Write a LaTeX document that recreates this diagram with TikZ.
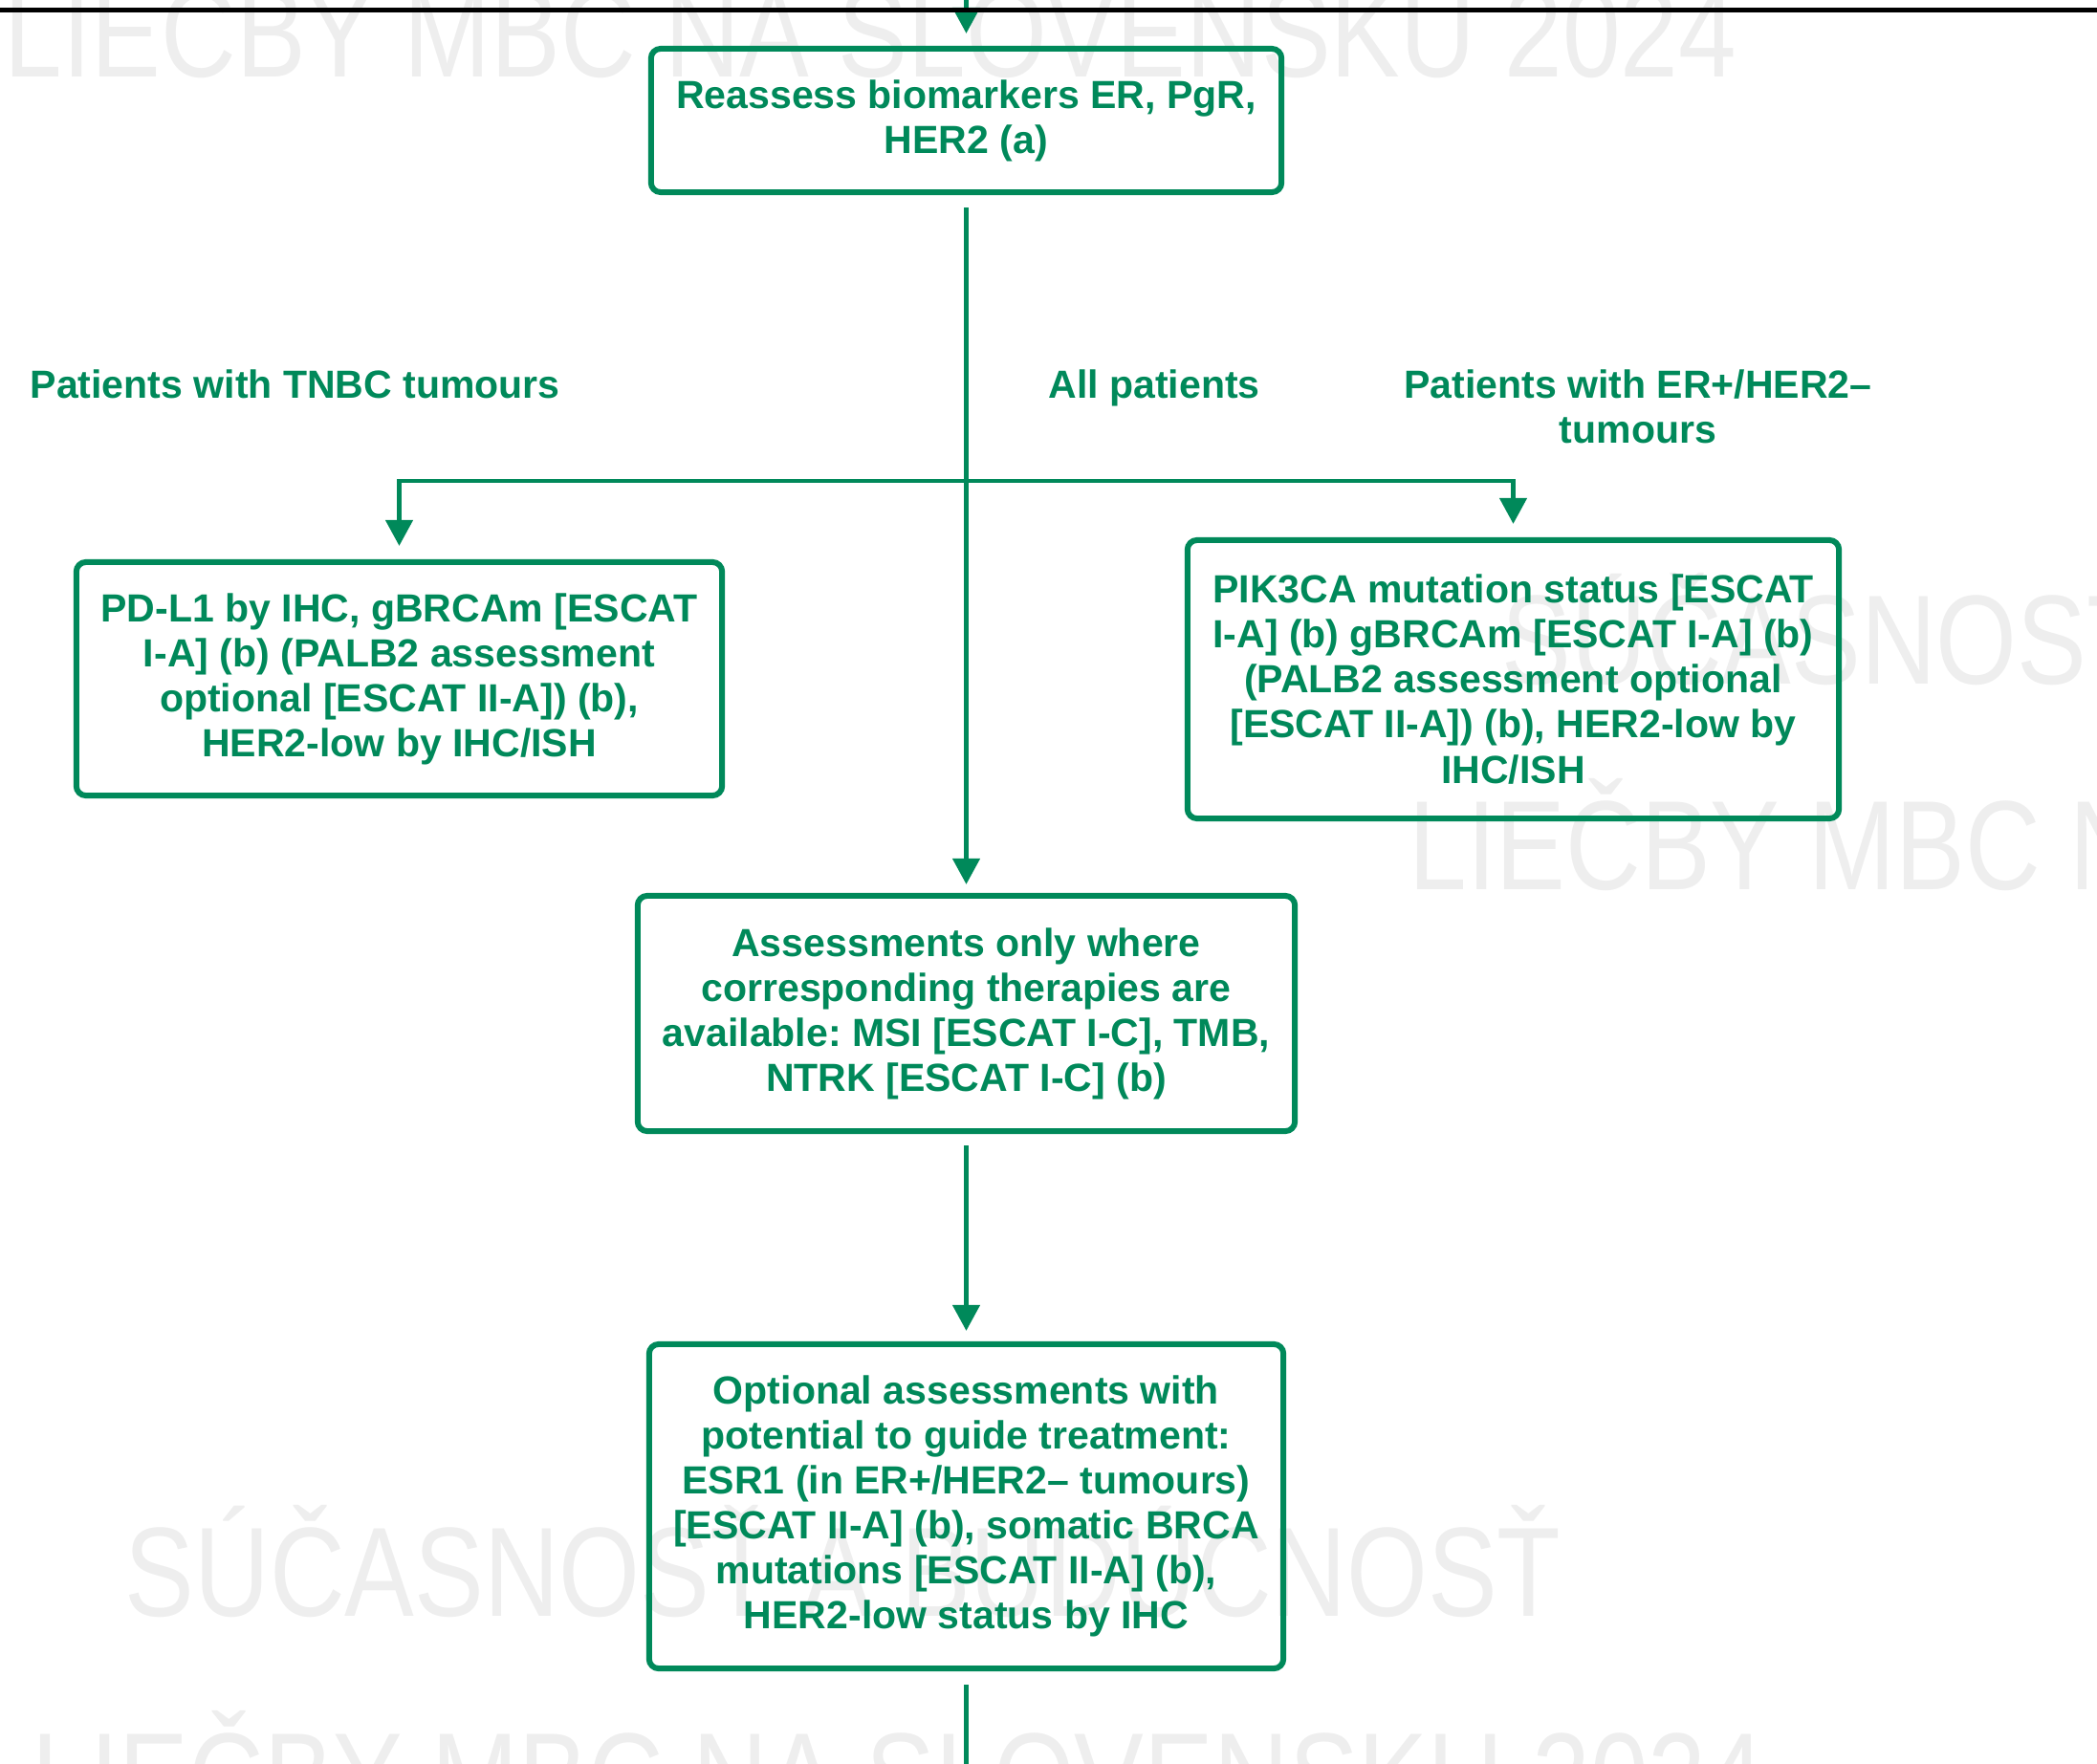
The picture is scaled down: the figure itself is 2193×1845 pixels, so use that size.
\documentclass[tikz,border=0pt]{standalone}
\usepackage{fontspec}
\setmainfont{Liberation Sans}
\newfontfamily\wmfont{Liberation Sans}[FakeStretch=0.82]
\usepackage{tikz}
\usetikzlibrary{arrows.meta, positioning}
\definecolor{esmogreen}{RGB}{0,137,90}
\definecolor{wmgray}{RGB}{238,238,238}
\frenchspacing

\begin{document}
\begin{tikzpicture}[x=0.01cm, y=-0.01cm,
    box/.style={draw=esmogreen, line width=0.06cm, rounded corners=0.1cm, align=center,
                text=esmogreen, inner sep=0pt,
                font=\bfseries\fontsize{11.67pt}{13.37pt}\selectfont},
    lbl/.style={text=esmogreen, align=center, inner sep=0pt,
                font=\bfseries\fontsize{11.67pt}{13.37pt}\selectfont},
    conn/.style={draw=esmogreen, line width=0.045cm, -{Triangle[length=0.27cm, width=0.28cm]}},
    wmark/.style={text=wmgray, anchor=base west, inner sep=0pt,
                  font=\wmfont\fontsize{37.8pt}{37.8pt}\selectfont}]
  \useasboundingbox (0,0) rectangle (2193,1845);
  \clip (0,0) rectangle (2193,1845);

  % Watermark
  \node[wmark] (wm1) at (4,80) {LIEČBY MBC NA SLOVENSKU 2024};
  \node[wmark] (wm2) at (1570,715) {SÚČASNOSŤ A BUDÚCNOSŤ};
  \node[wmark] (wm3) at (1473,930) {LIEČBY MBC NA SLOVENSKU 2024};
  \node[wmark] (wm4) at (130,1690) {SÚČASNOSŤ A BUDÚCNOSŤ};
  \node[wmark] (wm5) at (33,1905) {LIEČBY MBC NA SLOVENSKU 2024};

  % Boxes
  \node[box, minimum width=6.59cm, minimum height=1.50cm] (reassess) at (1010.5,126) {
    Reassess biomarkers ER, PgR,\\HER2 (a)};
  \node[box, minimum width=6.75cm, minimum height=2.44cm] (tnbc) at (417.5,710) {
    PD-L1 by IHC, gBRCAm {[}ESCAT\\I-A] (b) (PALB2 assessment\\optional {[}ESCAT II-A]) (b),\\HER2-low by IHC/ISH};
  \node[box, minimum width=6.81cm, minimum height=2.91cm] (erpos) at (1582.5,710.5) {
    PIK3CA mutation status {[}ESCAT\\I-A] (b) gBRCAm {[}ESCAT I-A] (b)\\(PALB2 assessment optional\\{[}ESCAT II-A]) (b), HER2-low by\\IHC/ISH};
  \node[box, minimum width=6.87cm, minimum height=2.46cm] (avail) at (1010.5,1060) {
    Assessments only where\\corresponding therapies are\\available: MSI {[}ESCAT I-C], TMB,\\NTRK {[}ESCAT I-C] (b)};
  \node[box, minimum width=6.63cm, minimum height=3.39cm] (optional) at (1010.5,1575.5) {
    Optional assessments with\\potential to guide treatment:\\ESR1 (in ER+/HER2– tumours)\\{[}ESCAT II-A] (b), somatic BRCA\\mutations {[}ESCAT II-A] (b),\\HER2-low status by IHC};

  % Branch labels
  \node[lbl, anchor=base west] (lbltnbc) at (31,416) {Patients with TNBC tumours};
  \node[lbl, anchor=base] (lblall) at (1207,416) {All patients};
  \node[lbl] (lblerpos) at (1713,425) {Patients with ER+/HER2–\\tumours};

  % Arrows
  \coordinate (topin) at (1010.5,0);
  \coordinate (split) at (1010.5,503);
  \coordinate (botout) at (1010.5,1845);
  \draw[conn, shorten >=0.13cm] (topin) -- (reassess.north);
  \draw[conn, shorten <=0.13cm, shorten >=0.09cm] (reassess.south) -- (avail.north);
  \draw[conn, shorten >=0.14cm] (split) -| (tnbc.north);
  \draw[conn, shorten >=0.14cm] (split) -| (erpos.north);
  \draw[conn, shorten <=0.12cm, shorten >=0.11cm] (avail.south) -- (optional.north);
  \draw[draw=esmogreen, line width=0.045cm, shorten <=0.14cm] (optional.south) -- (botout);

  % Page rule
  \coordinate (rulel) at (0,10);
  \coordinate (ruler) at (2193,10);
  \draw[line width=0.05cm] (rulel) -- (ruler);
\end{tikzpicture}
\end{document}
